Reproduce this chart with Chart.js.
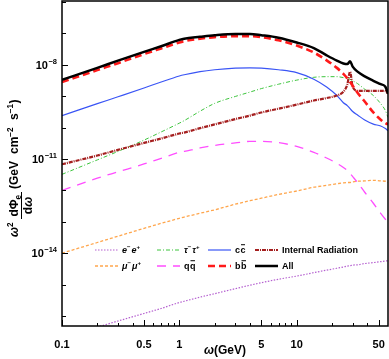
<!DOCTYPE html>
<html>
<head>
<meta charset="utf-8">
<script src="https://cdn.jsdelivr.net/npm/chart.js@4.4.0/dist/chart.umd.min.js"></script>
<style>
    html, body { margin: 0; padding: 0; background: #fff; }
    #wrap { width: 389px; height: 359px; }
</style>
</head>
<body>
<div id="wrap"><canvas id="spectrum" width="389" height="359"></canvas></div>
<script>
// Photon energy omega, GeV
const omega = [0.1, 0.2, 0.3, 0.5, 0.7, 1, 1.1, 1.5, 2, 3, 4, 5, 7, 10, 14, 18, 22, 25, 27, 28.5, 30, 33, 38, 45, 52, 57, 60];

// log10 of w^2 dPhi/dw (GeV cm^-2 s^-1)
const logEE   = [-16.63, -16.35, -16.16, -15.92, -15.76, -15.57, -15.53, -15.40, -15.29, -15.13, -15.02, -14.94, -14.83, -14.73, -14.62, -14.54, -14.48, -14.44, -14.41, -14.40, -14.38, -14.37, -14.33, -14.30, -14.27, -14.25, -14.24];
const logMuMu = [-14.00, -13.66, -13.46, -13.21, -13.05, -12.89, -12.85, -12.73, -12.62, -12.44, -12.33, -12.25, -12.13, -12.02, -11.90, -11.84, -11.79, -11.76, -11.75, -11.75, -11.73, -11.71, -11.70, -11.68, -11.70, -11.71, -11.75];
const logTau  = [-11.49, -11.03, -10.76, -10.40, -10.14, -9.86, -9.78, -9.48, -9.23, -9.01, -8.87, -8.76, -8.62, -8.49, -8.40, -8.38, -8.38, -8.41, -8.43, -8.46, -8.51, -8.60, -8.78, -8.98, -9.24, -9.46, -9.68];
const logQQ   = [-12.00, -11.61, -11.41, -11.16, -10.98, -10.79, -10.76, -10.65, -10.57, -10.49, -10.44, -10.44, -10.48, -10.60, -10.79, -10.97, -11.14, -11.27, -11.37, -11.46, -11.56, -11.75, -12.06, -12.41, -12.73, -12.92, -13.02];
const logCC   = [-9.62, -9.24, -9.02, -8.74, -8.55, -8.36, -8.32, -8.22, -8.16, -8.11, -8.10, -8.11, -8.16, -8.25, -8.46, -8.71, -8.98, -9.21, -9.30, -9.40, -9.49, -9.60, -9.76, -9.89, -9.95, -10.03, -10.10];
const logBB   = [-8.55, -8.17, -7.95, -7.66, -7.48, -7.29, -7.25, -7.17, -7.12, -7.09, -7.09, -7.12, -7.22, -7.39, -7.61, -7.86, -8.10, -8.29, -8.43, -8.54, -8.67, -8.89, -9.17, -9.52, -9.75, -9.86, -9.90];
const logIR   = [-11.17, -10.89, -10.71, -10.49, -10.35, -10.19, -10.16, -10.02, -9.90, -9.73, -9.62, -9.52, -9.40, -9.27, -9.14, -9.06, -8.98, -8.86, -8.63, -8.22, -8.70, -8.83, -8.83, -8.83, -8.83, -8.84, -8.92];
const logAll  = [-8.48, -8.10, -7.87, -7.59, -7.41, -7.21, -7.17, -7.11, -7.06, -7.02, -7.02, -7.06, -7.14, -7.29, -7.47, -7.70, -7.87, -7.96, -7.98, -7.89, -8.06, -8.22, -8.37, -8.51, -8.62, -8.70, -8.92];

// Axis ticks
const xLabelTicks = [0.1, 0.5, 1, 5, 10, 50];
const xTickLabels = ['0.1', '0.5', '1', '5', '10', '50'];
const xMinorTicks = [0.2, 0.3, 0.4, 0.6, 0.7, 0.8, 0.9, 2, 3, 4, 6, 7, 8, 9, 20, 30, 40];
const yDecades = [-16, -15, -14, -13, -12, -11, -10, -9, -8, -7, -6];
const yLabelDecades = [-14, -11, -8];

const FONT = '"Liberation Sans", Arial, sans-serif';

function points(logs) {
    return omega.map((w, i) => ({ x: w, y: Math.pow(10, logs[i]) }));
}

// Текст с верхними/нижними индексами и чертой сверху
function drawRich(ctx, parts, x, y, size) {
    parts.forEach(p => {
        const small = p.sup || p.sub;
        const fs = small ? size * 0.68 : size;
        ctx.font = (p.italic ? 'italic ' : '') + 'bold ' + fs + 'px ' + FONT;
        const dy = p.sup ? -size * 0.42 : (p.sub ? size * 0.25 : 0);
        ctx.fillText(p.t, x, y + dy);
        const w = ctx.measureText(p.t).width;
        if (p.bar) {
            ctx.save();
            ctx.lineWidth = 1;
            ctx.setLineDash([]);
            ctx.beginPath();
            ctx.moveTo(x + 0.5, y - size * 0.92);
            ctx.lineTo(x + w - 0.5, y - size * 0.92);
            ctx.stroke();
            ctx.restore();
        }
        x += w + (p.gap || 0);
    });
    return x;
}

const legendLayout = [
    { ds: 0, x: 95, y: 253, parts: [{ t: 'e', italic: true }, { t: '\u2212', sup: true, gap: 1 }, { t: 'e', italic: true }, { t: '+', sup: true }] },
    { ds: 2, x: 157, y: 253, parts: [{ t: '\u03c4', italic: true }, { t: '\u2212', sup: true, gap: 1 }, { t: '\u03c4', italic: true }, { t: '+', sup: true }] },
    { ds: 4, x: 208, y: 253, parts: [{ t: 'c', gap: 0.5 }, { t: 'c', bar: true }] },
    { ds: 6, x: 255, y: 253, parts: [{ t: 'Internal Radiation' }] },
    { ds: 1, x: 95, y: 269, parts: [{ t: '\u03bc', italic: true }, { t: '\u2212', sup: true, gap: 1 }, { t: '\u03bc', italic: true }, { t: '+', sup: true }] },
    { ds: 3, x: 157, y: 269, parts: [{ t: 'q', gap: 0.5 }, { t: 'q', bar: true }] },
    { ds: 5, x: 208, y: 269, parts: [{ t: 'b', gap: 0.5 }, { t: 'b', bar: true }] },
    { ds: 7, x: 255, y: 269, parts: [{ t: 'All' }] }
];

// Рамка, внутренние риски, подписи осей и легенда
const decorPlugin = {
    id: 'decor',
    afterDraw(chart) {
        const ctx = chart.ctx;
        const area = chart.chartArea;
        const xs = chart.scales.x;
        const ys = chart.scales.y;
        ctx.save();
        ctx.strokeStyle = '#000';
        ctx.fillStyle = '#000';
        ctx.setLineDash([]);

        // risks on x axis
        ctx.lineWidth = 1;
        ctx.beginPath();
        xLabelTicks.forEach(v => {
            const px = Math.round(xs.getPixelForValue(v)) + 0.5;
            ctx.moveTo(px, area.bottom); ctx.lineTo(px, area.bottom - 6);
        });
        xMinorTicks.forEach(v => {
            const px = Math.round(xs.getPixelForValue(v)) + 0.5;
            ctx.moveTo(px, area.bottom); ctx.lineTo(px, area.bottom - 3);
        });
        // risks on y axis
        yDecades.forEach(e => {
            const py = Math.round(ys.getPixelForValue(Math.pow(10, e))) + 0.5;
            const len = yLabelDecades.includes(e) ? 6 : 4;
            ctx.moveTo(area.left, py); ctx.lineTo(area.left + len, py);
        });
        ctx.stroke();

        // frame
        ctx.lineWidth = 1.5;
        ctx.strokeRect(area.left, area.top, area.right - area.left, area.bottom - area.top);

        // y tick labels 10^n
        ctx.textBaseline = 'alphabetic';
        yLabelDecades.forEach(e => {
            const py = ys.getPixelForValue(Math.pow(10, e));
            ctx.font = 'bold 7.5px ' + FONT;
            const exp = '\u2212' + Math.abs(e);
            const ew = ctx.measureText(exp).width;
            ctx.textAlign = 'right';
            ctx.fillText(exp, 57, py - 1);
            ctx.font = 'bold 11px ' + FONT;
            ctx.fillText('10', 57 - ew - 0.5, py + 4);
        });

        // x title
        ctx.textAlign = 'left';
        ctx.font = 'bold 12px ' + FONT;
        const restW = ctx.measureText('(GeV)').width;
        ctx.font = 'italic bold 12px ' + FONT;
        const w1 = ctx.measureText('\u03c9').width;
        const cx = (area.left + area.right) / 2 - (w1 + restW) / 2;
        ctx.fillText('\u03c9', cx, 354);
        ctx.font = 'bold 12px ' + FONT;
        ctx.fillText('(GeV)', cx + w1, 354);

        // y title, rotated
        ctx.save();
        ctx.rotate(-Math.PI / 2);
        const base = 18;
        drawRich(ctx, [{ t: '\u03c9', italic: true }, { t: '2', sup: true }], -237, base, 12);
        // fraction dPhi_e / d omega
        const fracL = -219, fracR = -192;
        const fc = (fracL + fracR) / 2;
        ctx.font = 'bold 12px ' + FONT;
        const numW = ctx.measureText('d\u03a6').width + 5;
        drawRich(ctx, [{ t: 'd\u03a6' }, { t: 'e', sub: true }], fc - numW / 2, base, 12);
        ctx.lineWidth = 1;
        ctx.beginPath();
        ctx.moveTo(fracL, 21.5); ctx.lineTo(fracR, 21.5);
        ctx.stroke();
        ctx.font = 'bold 12px ' + FONT;
        const denW = ctx.measureText('d').width;
        ctx.font = 'italic bold 12px ' + FONT;
        const denW2 = ctx.measureText('\u03c9').width;
        drawRich(ctx, [{ t: 'd' }, { t: '\u03c9', italic: true }], fc - (denW + denW2) / 2, 32, 12);
        drawRich(ctx, [{ t: '(GeV' }], -189, base, 12);
        drawRich(ctx, [{ t: 'cm' }, { t: '\u22122', sup: true }], -154, base, 12);
        drawRich(ctx, [{ t: 's' }, { t: '\u22121', sup: true, gap: 0.5 }, { t: ')' }], -120, base, 12);
        ctx.restore();

        // legend
        legendLayout.forEach(item => {
            const ds = chart.data.datasets[item.ds];
            ctx.save();
            ctx.strokeStyle = ds.borderColor;
            ctx.lineWidth = ds.borderWidth;
            ctx.setLineDash(ds.borderDash || []);
            ctx.beginPath();
            ctx.moveTo(item.x, item.y - 3);
            ctx.lineTo(item.x + 23, item.y - 3);
            ctx.stroke();
            ctx.restore();
            ctx.textAlign = 'left';
            drawRich(ctx, item.parts, item.x + 27, item.y, 9);
        });

        ctx.restore();
    }
};

function initChart() {
    const canvas = document.getElementById('spectrum');
    if (!canvas) return;

    const datasets = [
        { label: 'e-e+', data: points(logEE), borderColor: '#b560d0', borderWidth: 1.2, borderDash: [1.5, 1.5], order: 7 },
        { label: 'mu-mu+', data: points(logMuMu), borderColor: '#ffa64d', borderWidth: 1.3, borderDash: [3, 2], order: 6 },
        { label: 'tau-tau+', data: points(logTau), borderColor: '#3cc43c', borderWidth: 1, borderDash: [4, 2, 1, 2], order: 5 },
        { label: 'qq', data: points(logQQ), borderColor: '#ff4dff', borderWidth: 1.3, borderDash: [9, 7], order: 4 },
        { label: 'cc', data: points(logCC), borderColor: '#3a55f5', borderWidth: 1.2, borderDash: [], order: 3 },
        { label: 'bb', data: points(logBB), borderColor: '#ff1a1a', borderWidth: 2.6, borderDash: [7, 4], order: 1 },
        { label: 'Internal Radiation', data: points(logIR), borderColor: '#a51f1f', borderWidth: 2.2, borderDash: [4, 1, 1, 1], order: 2 },
        { label: 'All', data: points(logAll), borderColor: '#000000', borderWidth: 2.5, borderDash: [], order: 0 }
    ];

    new Chart(canvas.getContext('2d'), {
        type: 'line',
        data: { datasets: datasets },
        options: {
            responsive: false,
            animation: false,
            layout: { padding: { top: 1, right: 1, left: 0, bottom: 0 } },
            elements: {
                point: { radius: 0 },
                line: { cubicInterpolationMode: 'monotone', fill: false }
            },
            plugins: {
                legend: { display: false },
                tooltip: { enabled: false }
            },
            scales: {
                x: {
                    type: 'logarithmic',
                    min: 0.1,
                    max: 60,
                    grid: { display: false },
                    border: { display: false },
                    afterBuildTicks: s => { s.ticks = xLabelTicks.map(v => ({ value: v })); },
                    afterFit: s => { s.height = 33; },
                    ticks: {
                        autoSkip: false,
                        maxRotation: 0,
                        padding: 4,
                        color: '#000',
                        font: { family: FONT, size: 11, weight: 'bold' },
                        callback: (v, i) => xTickLabels[i]
                    }
                },
                y: {
                    type: 'logarithmic',
                    min: 4.8e-17,
                    max: 1.07e-6,
                    grid: { display: false },
                    border: { display: false },
                    afterBuildTicks: s => { s.ticks = yDecades.map(e => ({ value: Math.pow(10, e) })); },
                    afterFit: s => { s.width = 62; },
                    ticks: { display: false }
                }
            }
        },
        plugins: [decorPlugin]
    });
}

(function() {
    if (document.readyState === 'loading') {
        document.addEventListener('DOMContentLoaded', initChart);
    } else {
        initChart();
    }
})();
</script>
</body>
</html>
